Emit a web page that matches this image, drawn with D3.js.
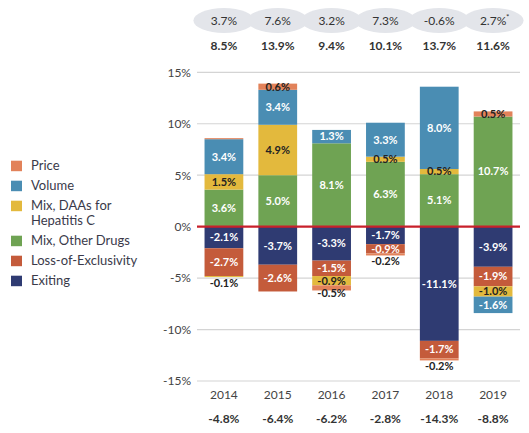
<!DOCTYPE html>
<html><head><meta charset="utf-8">
<script src="https://cdn.jsdelivr.net/npm/d3@7"></script>
<style>body{margin:0;background:#fff}svg{display:block;font-family:Lato,"Open Sans",sans-serif}</style>
</head><body><svg id="c" width="529" height="433"></svg>
<script>
const years = ["2014","2015","2016","2017","2018","2019"];
const seriesNames = ["Price","Volume","Mix, DAAs for Hepatitis C","Mix, Other Drugs","Loss-of-Exclusivity","Exiting"];
const colors = {"Price":"#e2825a","Volume":"#4a8db3","Mix, DAAs for Hepatitis C":"#e3b93d","Mix, Other Drugs":"#6fa353","Loss-of-Exclusivity":"#c45b3b","Exiting":"#2f3b72"};
// positive stack, bottom to top
const posOrder = ["Mix, Other Drugs","Mix, DAAs for Hepatitis C","Volume","Price"];
const posMix = [3.6,5.0,8.1,6.3,5.1,10.7];
const posDAA = [1.5,4.9,0,0.5,0.5,0];
const posVolume = [3.4,3.4,1.3,3.3,8.0,0];
const posPrice = [0.1,0.6,0,0,0,0.5];
// negative stack, from zero downward
const negOrder = ["Exiting","Loss-of-Exclusivity","Mix, DAAs for Hepatitis C","Price","Volume"];
const negExiting = [-2.1,-3.7,-3.3,-1.7,-11.1,-3.9];
const negLOE = [-2.7,-2.6,-1.5,-0.9,-1.7,-1.9];
const negDAA = [-0.1,0,-0.9,0,0,-1.0];
const negPrice = [0,0,-0.5,-0.2,-0.2,0];
const negVolume = [0,0,0,0,0,-1.6];
const topLabels = ["3.7%","7.6%","3.2%","7.3%","-0.6%","2.7%"];
const posTotals = ["8.5%","13.9%","9.4%","10.1%","13.7%","11.6%"];
const negTotals = ["-4.8%","-6.4%","-6.2%","-2.8%","-14.3%","-8.8%"];
const yTicks = [15,10,5,0,-5,-10,-15];

const posData = {"Mix, Other Drugs":posMix,"Mix, DAAs for Hepatitis C":posDAA,"Volume":posVolume,"Price":posPrice};
const negData = {"Exiting":negExiting,"Loss-of-Exclusivity":negLOE,"Mix, DAAs for Hepatitis C":negDAA,"Price":negPrice,"Volume":negVolume};
const hideLabel = {"2014|Price":true};

const svg = d3.select("#c");
const x = d3.scaleBand().domain(years).range([197,520]).paddingInner(0.28).paddingOuter(0.14);
const y = d3.scaleLinear().domain([-15,15]).range([381,72.3]);
const txt = "#333";

// grid
svg.append("g").selectAll("line").data(yTicks.filter(d=>d!==0)).join("line")
  .attr("x1",197).attr("x2",520).attr("y1",d=>y(d)).attr("y2",d=>y(d))
  .attr("stroke","#d4d4d4").attr("stroke-width",1.2);
// y axis labels
const yAxis = d3.axisLeft(y).tickValues(yTicks).tickFormat(d=>d+"%").tickSize(0).tickPadding(0);
const ga = svg.append("g").attr("transform","translate(191,0)").call(yAxis);
ga.select(".domain").remove();
ga.selectAll("text").attr("font-size",12).attr("fill","#444").attr("font-family","Lato,'Open Sans',sans-serif");

// build segments
const segs = [];
years.forEach((yr,i)=>{
  let acc=0;
  posOrder.forEach(s=>{const v=posData[s][i]; if(v){segs.push({yr,s,v,y0:acc,y1:acc+v}); acc+=v;}});
  acc=0;
  const negs=[];
  negOrder.forEach(s=>{const v=negData[s][i]; if(v){negs.push({yr,s,v,y0:acc,y1:acc+v,neg:true}); acc+=v;}});
  if(negs.length) negs[negs.length-1].last=true;
  segs.push(...negs);
});
svg.append("g").selectAll("rect").data(segs).join("rect")
  .attr("x",d=>x(d.yr)).attr("width",x.bandwidth())
  .attr("y",d=>y(Math.max(d.y0,d.y1))).attr("height",d=>Math.abs(y(d.y0)-y(d.y1)))
  .attr("fill",d=>colors[d.s]);

// zero line
svg.append("line").attr("x1",197).attr("x2",520).attr("y1",y(0)).attr("y2",y(0))
  .attr("stroke","#c8202b").attr("stroke-width",2.2);

// segment labels
const darkText = s => s==="Price"||s==="Mix, DAAs for Hepatitis C";
const small = d => d.neg && d.last && Math.abs(d.v)<=0.5;
svg.append("g").selectAll("text").data(segs.filter(d=>!hideLabel[d.yr+"|"+d.s])).join("text")
  .attr("x",d=>x(d.yr)+x.bandwidth()/2)
  .attr("y",d=>{
    if(small(d)) return y(d.y1)+(Math.abs(d.v)<0.3?6:3);
    return y((d.y0+d.y1)/2);
  })
  .attr("dy","0.35em").attr("text-anchor","middle")
  .attr("font-size",11).attr("font-weight",700)
  .attr("fill",d=>(darkText(d.s)||small(d))?"#222":"#fff")
  .text(d=>d.v.toFixed(1)+"%");

// top ellipses
const gTop = svg.append("g");
gTop.selectAll("ellipse").data(years).join("ellipse")
  .attr("cx",d=>x(d)+x.bandwidth()/2).attr("cy",20.5).attr("rx",30.5).attr("ry",12.5)
  .attr("fill","#e3e5ea");
gTop.selectAll("text.tl").data(years).join("text").attr("class","tl")
  .attr("x",d=>x(d)+x.bandwidth()/2).attr("y",20.5).attr("dy","0.35em")
  .attr("text-anchor","middle").attr("font-size",12).attr("fill",txt)
  .text((d,i)=>topLabels[i]);
gTop.append("text").attr("x",x("2019")+x.bandwidth()/2+13).attr("y",20)
  .attr("font-size",8).attr("fill",txt).text("*");
svg.append("g").selectAll("text").data(years).join("text")
  .attr("x",d=>x(d)+x.bandwidth()/2).attr("y",45.5).attr("dy","0.35em")
  .attr("text-anchor","middle").attr("font-size",12).attr("font-weight",700).attr("fill",txt)
  .text((d,i)=>posTotals[i]);

// x axis labels
const xAxis = d3.axisBottom(x).tickSize(0).tickPadding(0);
const gx = svg.append("g").attr("transform","translate(0,390)").call(xAxis);
gx.select(".domain").remove();
gx.selectAll("text").attr("font-size",12).attr("fill","#444").attr("font-family","Lato,'Open Sans',sans-serif");
svg.append("g").selectAll("text").data(years).join("text")
  .attr("x",d=>x(d)+x.bandwidth()/2).attr("y",419).attr("dy","0.35em")
  .attr("text-anchor","middle").attr("font-size",12).attr("font-weight",700).attr("fill",txt)
  .text((d,i)=>negTotals[i]);

// legend
const legendY = [160.7,180.7,200.7,235.7,255.7,275.7];
const lg = svg.append("g");
seriesNames.forEach((s,i)=>{
  lg.append("rect").attr("x",11).attr("y",legendY[i]).attr("width",11).attr("height",10.5).attr("fill",colors[s]);
  const t = lg.append("text").attr("x",31).attr("y",legendY[i]+5.2).attr("dy","0.35em")
    .attr("font-size",13).attr("fill","#3a3a4a");
  if(s==="Mix, DAAs for Hepatitis C"){
    t.append("tspan").attr("x",31).text("Mix, DAAs for");
    t.append("tspan").attr("x",31).attr("dy","1.15em").text("Hepatitis C");
  } else t.text(s);
});
</script></body></html>
